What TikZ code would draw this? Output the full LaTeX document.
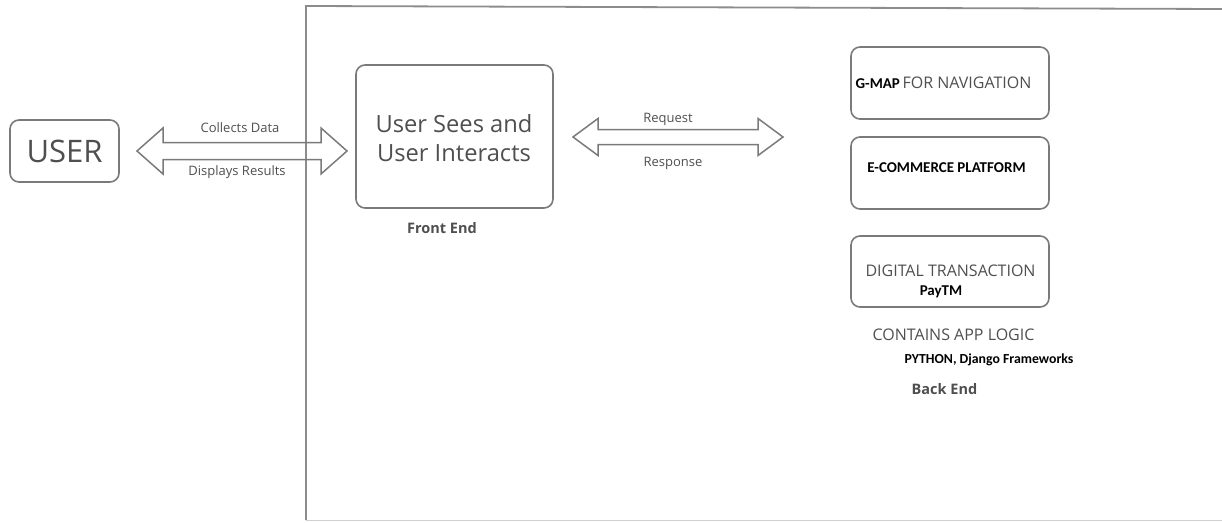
\documentclass[tikz,border=0pt]{standalone}
\usepackage{fontspec}
\setmainfont{Open Sans}
\newfontfamily\calib{Carlito}
\usetikzlibrary{calc}
\definecolor{edge}{HTML}{7A7A7A}
\definecolor{ink}{HTML}{4F4F4F}
\definecolor{framegray}{HTML}{8C8C8C}
\definecolor{framelight}{HTML}{D0D0D0}

% hollow double arrow between two tip coordinates:
% #1 start tip, #2 end tip, #3 head length, #4 head half-height, #5 shaft half-height
\newcommand{\hollowarrow}[5]{%
  \draw[arrowline] (#1)
    -- ($(#1)+(#3,-#4)$) -- ($(#1)+(#3,-#5)$)
    -- ($(#2)+(-#3,-#5)$) -- ($(#2)+(-#3,-#4)$)
    -- (#2)
    -- ($(#2)+(-#3,#4)$) -- ($(#2)+(-#3,#5)$)
    -- ($(#1)+(#3,#5)$) -- ($(#1)+(#3,#4)$) -- cycle;}

\begin{document}
\begin{tikzpicture}[x=1pt,y=-1pt,
  box/.style={draw=edge,line width=1.6pt,rounded corners=9pt,inner sep=0pt},
  arrowline/.style={draw=edge,line width=1.5pt,line join=miter},
  small/.style={text=ink,font=\fontsize{13}{15}\selectfont},
  caps/.style={text=ink,font=\fontsize{16}{18}\selectfont},
  heading/.style={text=ink,font=\fontsize{14.5}{17}\selectfont\bfseries},
  tag/.style={text=black,font=\calib\fontsize{15}{17}\selectfont\bfseries},
  frame/.style={draw=framegray,line width=1.8pt},
  framebottom/.style={draw=framelight,line width=1.5pt}]
\useasboundingbox (0,0) rectangle (1222,522);

% outer system frame
\draw[frame] (306,520) -- (306,6) -- (1222,9);
\draw[framebottom] (306,520.5) -- (1222,520.5);

% user
\node[box,minimum width=109pt,minimum height=62pt,text=ink,
      font=\fontsize{31}{33}\selectfont] (user) at (64.5,151) {USER};

% front end
\node[box,minimum width=197pt,minimum height=143pt] (front) at (454.5,136.5) {};
\node[text=ink,font=\fontsize{23.7}{29}\selectfont,align=center] (fronttext)
  at (454,138.5) {User Sees and\\User Interacts};
\node[heading] (frontlbl) at (442,228) {Front End};

% back end services
\node[box,minimum width=198pt,minimum height=72pt] (gmap) at (950,83) {};
\node[caps,inner sep=0pt] (gmaptext) at (943.5,83)
  {{\calib\bfseries\color{black}\fontsize{15}{17}\selectfont G-MAP}\,FOR NAVIGATION};
\node[box,minimum width=198pt,minimum height=72pt] (ecom) at (950,173) {};
\node[tag] (ecomtext) at (946.5,168) {E-COMMERCE PLATFORM};
\node[box,minimum width=198pt,minimum height=71pt] (digi) at (950,271.5) {};
\node[caps] (digitext) at (950.5,271) {DIGITAL TRANSACTION};
\node[tag] (paytm) at (941,292) {PayTM};

\node[caps] (logic) at (953.5,335) {CONTAINS APP LOGIC};
\node[tag,font=\calib\fontsize{13.8}{16}\selectfont\bfseries] (python) at (989,360) {PYTHON, Django Frameworks};
\node[heading] (backlbl) at (944.5,389) {Back End};

% connectors
\coordinate (a1l) at (137,151);
\coordinate (a1r) at (347,151);
\hollowarrow{a1l}{a1r}{26}{23}{8.5}
\node[small] (collect) at (240,128) {Collects Data};
\node[small] (display) at (237,172) {Displays Results};

\coordinate (a2l) at (573,137);
\coordinate (a2r) at (783,137);
\hollowarrow{a2l}{a2r}{25}{18.5}{7.5}
\node[small] (request) at (668,119) {Request};
\node[small] (response) at (673,163) {Response};
\end{tikzpicture}
\end{document}
